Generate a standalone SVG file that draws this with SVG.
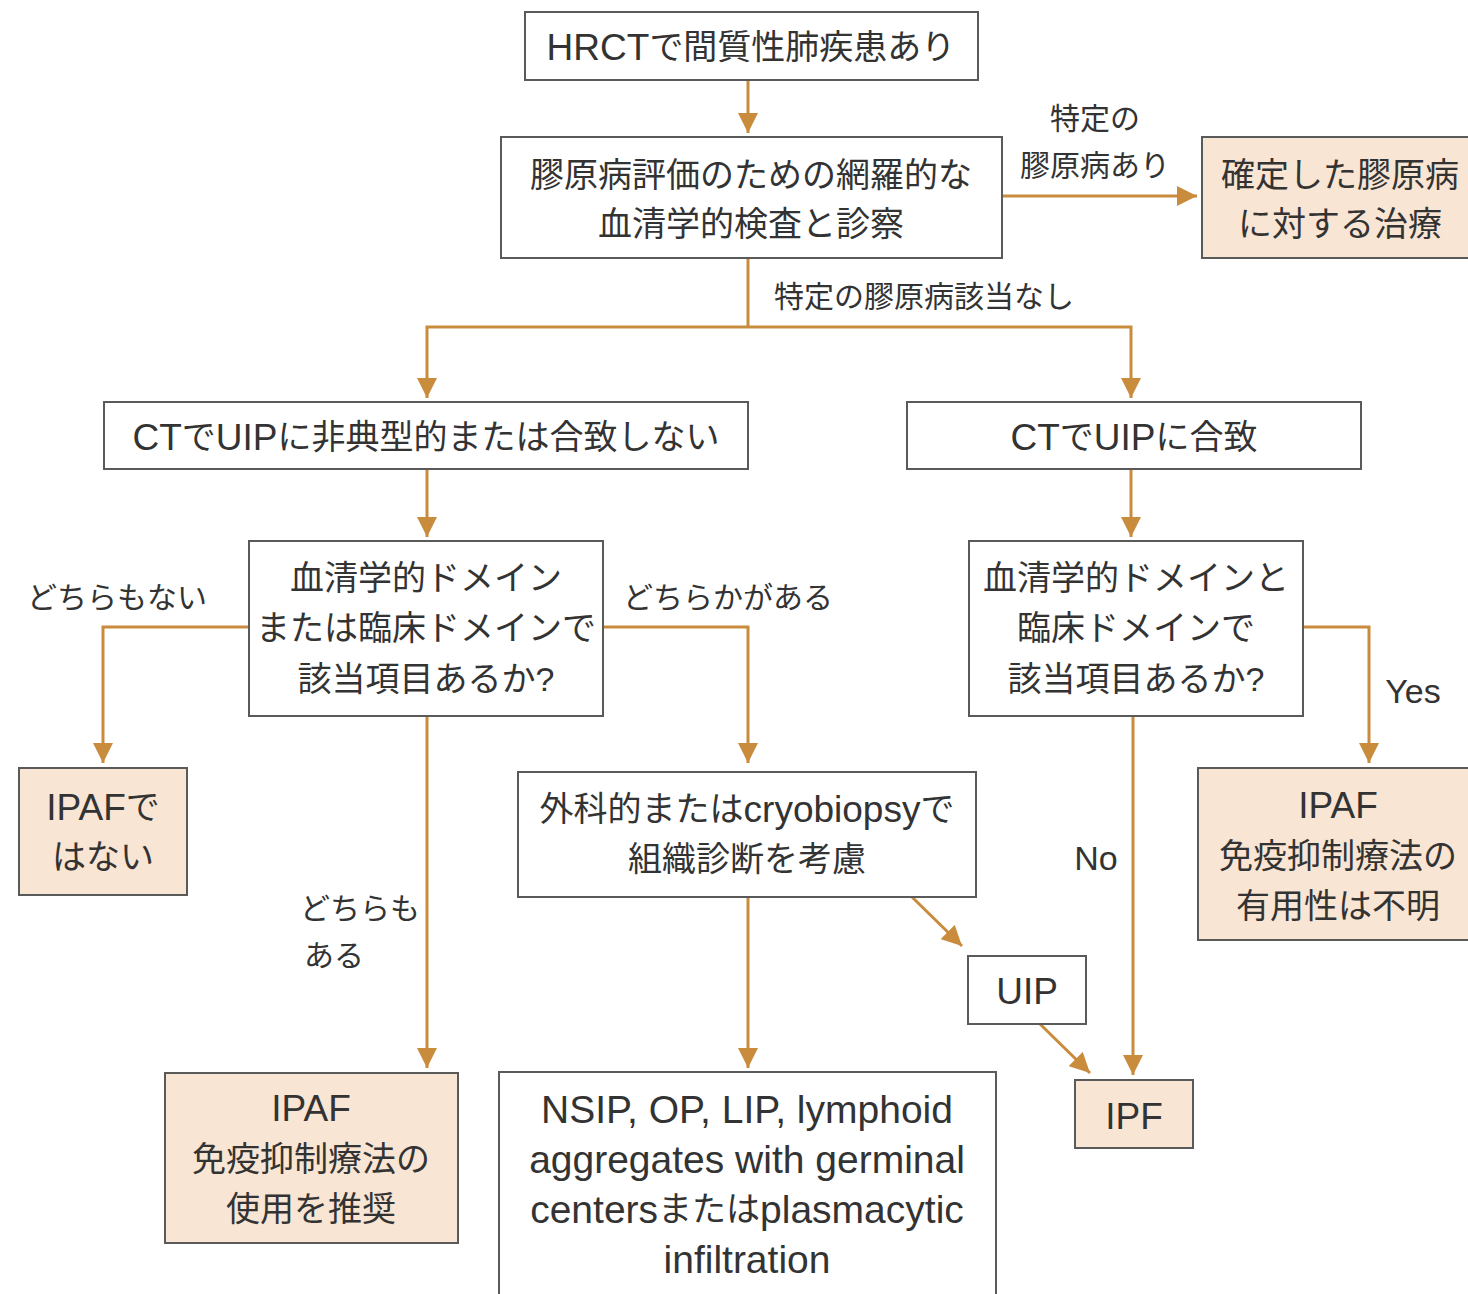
<svg xmlns="http://www.w3.org/2000/svg" width="1468" height="1294" viewBox="0 0 1468 1294">
<defs>
<style>
.b{fill:#fff;stroke:#5a5a5a;stroke-width:2}
.p{fill:#f9e5d3;stroke:#5a5a5a;stroke-width:2}
.t{font-family:"Liberation Sans","Noto Sans CJK JP",sans-serif;font-size:34px;fill:#333;text-anchor:middle;dominant-baseline:central}
.l{font-family:"Liberation Sans","Noto Sans CJK JP",sans-serif;font-size:30px;fill:#333;text-anchor:middle;dominant-baseline:central}
.e{font-size:37px}
.f{font-size:39px}
.c{fill:none;stroke:#c98b3c;stroke-width:3}
</style>
<marker id="a" markerUnits="userSpaceOnUse" markerWidth="22" markerHeight="20" refX="20" refY="10" orient="auto">
<path d="M0,0 L20,10 L0,20 z" fill="#c98b3c"/>
</marker>
</defs>
<rect width="1468" height="1294" fill="#fff"/>
<g id="connectors">
<path class="c" d="M748,80 V133" marker-end="url(#a)"/>
<path class="c" d="M1002,196 H1197" marker-end="url(#a)"/>
<path class="c" d="M748,258 V327"/>
<path class="c" d="M748,327 H427 V398" marker-end="url(#a)"/>
<path class="c" d="M748,327 H1131 V398" marker-end="url(#a)"/>
<path class="c" d="M427,469 V537" marker-end="url(#a)"/>
<path class="c" d="M1131,469 V537" marker-end="url(#a)"/>
<path class="c" d="M249,627 H103 V763" marker-end="url(#a)"/>
<path class="c" d="M603,627 H748 V763" marker-end="url(#a)"/>
<path class="c" d="M427,716 V1068" marker-end="url(#a)"/>
<path class="c" d="M748,897 V1068" marker-end="url(#a)"/>
<path class="c" d="M912,897 L962,946" marker-end="url(#a)"/>
<path class="c" d="M1040,1024 L1090,1073" marker-end="url(#a)"/>
<path class="c" d="M1133,716 V1075" marker-end="url(#a)"/>
<path class="c" d="M1303,627 H1369 V763" marker-end="url(#a)"/>
<text class="l" x="1095" y="118">特定の</text>
<text class="l" x="1095" y="165">膠原病あり</text>
<text class="l" x="924" y="296">特定の膠原病該当なし</text>
<text class="l" x="117" y="597">どちらもない</text>
<text class="l" x="728" y="597">どちらかがある</text>
<text class="l" x="360" y="908">どちらも</text>
<text class="l" x="334" y="955">ある</text>
<text class="l" x="1096" y="858" style="font-size:34px">No</text>
<text class="l" x="1413" y="691" style="font-size:34px">Yes</text>
</g>
<g id="n1"><rect class="b" x="525" y="12" width="453" height="68"/><text class="t" x="751" y="47"><tspan class="e">HRCT</tspan>で間質性肺疾患あり</text></g>
<g id="n2"><rect class="b" x="501" y="137" width="501" height="121"/><text class="t" x="751" y="175">膠原病評価のための網羅的な</text><text class="t" x="751" y="224">血清学的検査と診察</text></g>
<g id="n3"><rect class="p" x="1202" y="137" width="270" height="121"/><text class="t" x="1340" y="175">確定した膠原病</text><text class="t" x="1340" y="224">に対する治療</text></g>
<g id="n4"><rect class="b" x="104" y="402" width="644" height="67"/><text class="t" x="426" y="437"><tspan class="e">CT</tspan>で<tspan class="e">UIP</tspan>に非典型的または合致しない</text></g>
<g id="n5"><rect class="b" x="907" y="402" width="454" height="67"/><text class="t" x="1134" y="437"><tspan class="e">CT</tspan>で<tspan class="e">UIP</tspan>に合致</text></g>
<g id="n6"><rect class="b" x="249" y="541" width="354" height="175"/><text class="t" x="426" y="578">血清学的ドメイン</text><text class="t" x="426" y="628">または臨床ドメインで</text><text class="t" x="426" y="679">該当項目あるか?</text></g>
<g id="n7"><rect class="b" x="969" y="541" width="334" height="175"/><text class="t" x="1136" y="578">血清学的ドメインと</text><text class="t" x="1136" y="628">臨床ドメインで</text><text class="t" x="1136" y="679">該当項目あるか?</text></g>
<g id="n8"><rect class="p" x="19" y="768" width="168" height="127"/><text class="t" x="103" y="807"><tspan class="e">IPAF</tspan>で</text><text class="t" x="103" y="857">はない</text></g>
<g id="n9"><rect class="b" x="518" y="772" width="458" height="125"/><text class="t" x="747" y="809">外科的または<tspan class="e">cryobiopsy</tspan>で</text><text class="t" x="747" y="859">組織診断を考慮</text></g>
<g id="n10"><rect class="p" x="1198" y="768" width="274" height="172"/><text class="t e" x="1338" y="805">IPAF</text><text class="t" x="1338" y="856">免疫抑制療法の</text><text class="t" x="1338" y="906">有用性は不明</text></g>
<g id="n11"><rect class="b" x="968" y="956" width="118" height="68"/><text class="t e" x="1027" y="991">UIP</text></g>
<g id="n12"><rect class="p" x="1075" y="1080" width="118" height="68"/><text class="t e" x="1134" y="1116">IPF</text></g>
<g id="n13"><rect class="p" x="165" y="1073" width="293" height="170"/><text class="t e" x="311" y="1108">IPAF</text><text class="t" x="311" y="1159">免疫抑制療法の</text><text class="t" x="311" y="1209">使用を推奨</text></g>
<g id="n14"><rect class="b" x="499" y="1072" width="497" height="230"/><text class="t f" x="747" y="1109">NSIP, OP, LIP, lymphoid</text><text class="t f" x="747" y="1159">aggregates with germinal</text><text class="t" x="747" y="1209"><tspan class="f">centers</tspan>または<tspan class="f">plasmacytic</tspan></text><text class="t f" x="747" y="1259">infiltration</text></g>
</svg>
